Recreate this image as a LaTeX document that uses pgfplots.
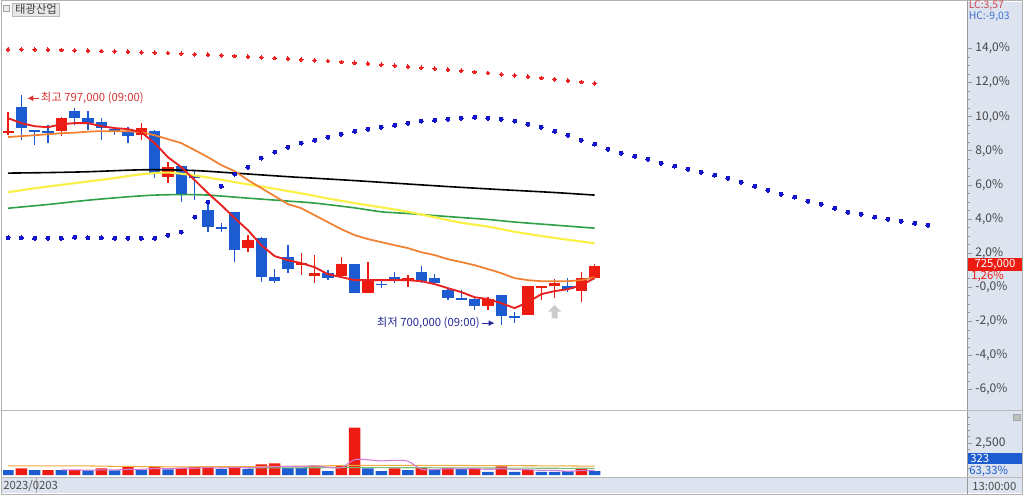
\documentclass[border=0pt]{standalone}
\usepackage{pgfplots}
\pgfplotsset{compat=1.18}
\usepackage{pgfplotstable}
\usepackage{fontspec}
\setmainfont{Noto Sans CJK KR}
\usetikzlibrary{arrows.meta,shapes.arrows}

\definecolor{cRed}{RGB}{236,28,18}
\definecolor{cBlue}{RGB}{28,92,208}
\definecolor{maRed}{RGB}{232,32,32}
\definecolor{maOrange}{RGB}{242,128,48}
\definecolor{maYellow}{RGB}{250,240,70}
\definecolor{maGreen}{RGB}{46,160,72}
\definecolor{dotRed}{RGB}{235,30,30}
\definecolor{dotBlue}{RGB}{20,20,200}
\definecolor{panelbg}{RGB}{221,228,239}
\definecolor{tickgray}{RGB}{70,70,70}
\definecolor{labRed}{RGB}{214,52,52}
\definecolor{labBlue}{RGB}{36,40,150}
\definecolor{volPink}{RGB}{214,120,214}
\definecolor{volOrange}{RGB}{240,170,60}
\definecolor{volGreen}{RGB}{120,190,120}

\newcommand\fs{\fontsize{8.5}{9}\selectfont}
\newcommand\fst{\fontsize{9}{10}\selectfont}
\newcommand\fss{\fontsize{7.8}{8.5}\selectfont}

% candles: index, open, high, low, close (percent)
\pgfplotstableread{
i o h l c
0 9.03 10.26 8.91 9.15
4 9.15 9.97 8.86 9.91
10 8.91 9.62 8.62 9.33
12 6.45 7.33 6.10 7.04
18 2.29 3.05 2.05 2.76
22 1.29 1.99 0.70 1.41
23 0.65 1.88 0.23 0.82
25 0.65 1.76 0.53 1.35
27 -0.35 1.47 -0.35 0.35
30 0.35 0.70 0.00 0.53
36 -1.11 -0.59 -1.35 -0.70
39 -1.64 0.06 -1.64 0.06
40 0.00 0.06 -0.76 0.06
41 0.06 0.47 -0.65 0.23
43 -0.23 0.88 -0.88 0.53
44 0.53 1.35 0.47 1.26
}\candred
\pgfplotstableread{
i o h l c
1 10.56 11.26 8.62 9.33
2 9.16 9.16 8.33 9.12
3 9.15 9.50 8.45 9.03
5 10.32 10.50 9.50 9.91
6 9.91 10.32 9.21 9.62
7 9.68 9.91 8.62 9.33
8 9.27 9.38 8.91 9.22
9 9.09 9.38 8.45 8.86
11 9.15 9.21 6.39 6.69
13 7.10 7.10 4.99 5.45
14 6.51 6.86 5.10 6.47
15 4.52 4.81 3.23 3.52
16 3.52 3.75 3.23 3.46
17 4.40 4.40 1.47 2.17
19 2.87 2.93 0.29 0.59
20 0.59 1.06 0.23 0.35
21 1.76 2.46 0.82 1.06
24 0.82 1.00 0.41 0.53
26 1.35 1.35 -0.35 -0.35
28 0.18 0.47 -0.06 0.14
29 0.59 0.88 0.23 0.35
31 0.88 1.23 0.23 0.35
32 0.53 0.76 0.23 0.23
33 -0.18 -0.06 -0.76 -0.65
34 -0.66 -0.18 -0.76 -0.70
35 -0.70 -0.59 -1.35 -1.11
37 -0.47 -0.47 -2.23 -1.70
38 -1.73 -1.47 -2.11 -1.76
42 0.06 0.53 -0.29 -0.12
}\candblue

% moving averages: red and orange
\pgfplotstableread{
i r o
0 9.91 8.80
1 9.62 8.86
2 9.44 8.91
3 9.38 8.97
4 9.56 9.03
5 9.62 9.06
6 9.62 9.12
7 9.44 9.15
8 9.33 9.15
9 9.27 9.15
10 9.09 9.09
11 8.45 8.91
12 7.62 8.68
13 7.04 8.45
14 6.28 8.04
15 5.51 7.62
16 4.81 7.16
17 4.05 6.80
18 3.34 6.28
19 2.46 5.81
20 1.82 5.34
21 1.58 4.87
22 1.41 4.63
23 1.17 4.22
24 0.76 3.81
25 0.59 3.40
26 0.41 3.05
27 0.41 2.82
28 0.41 2.64
29 0.41 2.46
30 0.41 2.29
31 0.35 2.05
32 0.18 1.88
33 -0.06 1.64
34 -0.29 1.47
35 -0.59 1.29
36 -0.70 1.06
37 -0.94 0.82
38 -1.23 0.53
39 -0.88 0.41
40 -0.41 0.35
41 -0.23 0.35
42 -0.12 0.35
43 0.12 0.41
44 0.53 0.59
}\mas

\pgfplotstableread{
i v
0 6.69
3 6.72
6 6.77
9 6.86
11 6.89
14 6.84
17 6.69
21 6.48
23 6.39
26 6.25
29 6.10
33 5.90
37 5.72
41 5.55
44 5.40
}\mablack
\pgfplotstableread{
i v
0 5.57
2 5.80
4 6.00
6 6.20
8 6.40
10 6.62
12 6.72
14 6.55
16 6.30
18 6.03
20 5.77
22 5.50
24 5.20
26 4.93
28 4.68
30 4.42
32 4.10
34 3.78
36 3.55
38 3.25
40 3.00
42 2.78
44 2.58
}\mayellow
\pgfplotstableread{
i v
0 4.63
3 4.85
6 5.10
9 5.30
11 5.40
13 5.43
15 5.40
18 5.22
21 5.05
23 4.93
26 4.65
28 4.42
30 4.32
33 4.14
36 3.97
38 3.82
41 3.64
44 3.46
}\magreen

\pgfplotstableread{
i v
0 13.96
1 13.95
2 13.94
3 13.92
4 13.91
5 13.89
6 13.87
7 13.85
8 13.83
9 13.81
10 13.78
11 13.75
12 13.73
13 13.70
14 13.66
15 13.63
16 13.60
17 13.56
18 13.52
19 13.48
20 13.44
21 13.40
22 13.35
23 13.31
24 13.26
25 13.21
26 13.16
27 13.11
28 13.05
29 13.00
30 12.94
31 12.88
32 12.82
33 12.75
34 12.69
35 12.62
36 12.56
37 12.49
38 12.42
39 12.35
40 12.27
41 12.20
42 12.12
43 12.04
44 11.96
}\dotred

\pgfplotstableread{
i v
0 2.90
1 2.90
2 2.87
3 2.87
4 2.87
5 2.93
6 2.90
7 2.90
8 2.87
9 2.87
10 2.87
11 2.87
12 3.05
13 3.23
14 4.11
15 4.99
16 5.92
17 6.63
18 7.04
19 7.57
20 7.92
21 8.21
22 8.45
23 8.62
24 8.80
25 8.97
26 9.15
27 9.27
28 9.38
29 9.50
30 9.62
31 9.74
32 9.79
33 9.85
34 9.91
35 9.97
36 9.91
37 9.85
38 9.74
39 9.56
40 9.38
41 9.15
42 8.91
43 8.62
44 8.39
45 8.09
46 7.86
47 7.68
48 7.51
49 7.27
50 7.10
51 6.92
52 6.74
53 6.57
54 6.39
55 6.16
56 5.92
57 5.69
58 5.45
59 5.28
60 5.04
61 4.87
62 4.63
63 4.40
64 4.28
65 4.11
66 3.99
67 3.87
68 3.75
69 3.64
}\dotblue

% volume
\pgfplotstableread{
i v
1 520
3 390
5 390
7 520
9 650
11 650
13 572
14 650
15 650
17 650
19 832
20 910
23 728
25 728
26 3700
29 520
31 572
33 572
35 520
37 676
39 416
43 572
}\volred
\pgfplotstableread{
i v
0 390
2 390
4 390
6 364
8 364
10 390
12 442
16 468
18 468
21 572
22 572
24 312
27 520
28 312
30 390
32 416
34 468
36 260
38 260
40 260
41 260
42 312
44 323
}\volblue
\pgfplotstableread{
i v
4 416
5 416
6 385
7 411
8 406
9 458
10 458
11 515
12 499
13 541
14 541
15 593
16 556
17 598
18 577
19 614
20 666
21 686
22 671
23 723
24 619
25 582
26 1208
27 1198
28 1114
29 1156
30 1088
31 463
32 442
33 494
34 484
35 510
36 447
37 499
38 437
39 426
40 374
41 374
42 302
43 364
44 359
}\volma
\pgfplotstableread{
i v
0 720
6 720
8 690
12 650
18 660
22 700
26 760
32 760
38 740
42 720
44 700
}\volmb
\pgfplotstableread{
i v
18 560
26 590
34 570
40 540
44 530
}\volmc

\begin{document}
\begin{tikzpicture}
\begin{scope}[x=0.75pt,y=-0.75pt,yshift=371.25pt]
 \fill[white] (0,0) rectangle (1024,495);
 \useasboundingbox (0,0) rectangle (1024,495);
 \fill[panelbg] (967,2) rectangle (1022,477);
 \fill[panelbg] (2,477.5) rectangle (1022,493);
\end{scope}

% ---------------- main price panel
\begin{axis}[
  at={(2.25pt,63.75pt)}, anchor=south west,
  scale only axis, width=723pt, height=306pt,
  xmin=-0.375, xmax=71.93, ymin=-7.214, ymax=16.716,
  axis x line=none,
  axis y line*=right,
  y axis line style={-, draw=gray!80},
  ytick={-6,-4,...,14},
  yticklabels={{-6,0\%},{-4,0\%},{-2,0\%},{-0,0\%},{2,0\%},{4,0\%},{6,0\%},{8,0\%},{10,0\%},{12,0\%},{14,0\%}},
  minor y tick num=3,
  tick align=outside,
  major tick length=3.8pt, minor tick length=2pt,
  every tick/.style={gray!80},
  yticklabel style={font=\fst, text=tickgray, xshift=-1pt},
]
% wicks
\addplot[draw=none, mark=none, error bars/.cd, y dir=both, y explicit, error mark=none,
  error bar style={draw=cBlue, line width=0.8pt}]
  table[x=i, y expr={(\thisrow{h}+\thisrow{l})/2}, y error expr={(\thisrow{h}-\thisrow{l})/2}]{\candblue};
\addplot[draw=none, mark=none, error bars/.cd, y dir=both, y explicit, error mark=none,
  error bar style={draw=cRed, line width=0.8pt}]
  table[x=i, y expr={(\thisrow{h}+\thisrow{l})/2}, y error expr={(\thisrow{h}-\thisrow{l})/2}]{\candred};
% bodies
\addplot[draw=none, mark=none, error bars/.cd, y dir=both, y explicit, error mark=none,
  error bar style={draw=cBlue, line width=8.4pt}]
  table[x=i, y expr={(\thisrow{o}+\thisrow{c})/2}, y error expr={max(abs(\thisrow{c}-\thisrow{o})/2,0.05)}]{\candblue};
\addplot[draw=none, mark=none, error bars/.cd, y dir=both, y explicit, error mark=none,
  error bar style={draw=cRed, line width=8.4pt}]
  table[x=i, y expr={(\thisrow{o}+\thisrow{c})/2}, y error expr={max(abs(\thisrow{c}-\thisrow{o})/2,0.05)}]{\candred};
% moving averages
\addplot[maGreen, line width=1.2pt, smooth] table[x=i,y=v]{\magreen};
\addplot[maYellow, line width=1.6pt, smooth] table[x=i,y=v]{\mayellow};
\addplot[black, line width=1.2pt, smooth] table[x=i,y=v]{\mablack};
\addplot[maOrange, line width=1.3pt] table[x=i,y=o]{\mas};
\addplot[maRed, line width=1.4pt] table[x=i,y=r]{\mas};
% dots
\addplot[dotRed, only marks, mark=*, mark size=1.4pt, mark options={draw=dotRed, fill=dotRed, line width=0pt}] table[x=i,y=v]{\dotred};
\addplot[dotBlue, only marks, mark=*, mark size=1.5pt, mark options={draw=dotBlue, fill=dotBlue, line width=0pt}] table[x=i,y=v]{\dotblue};
% annotations
\draw[labRed, line width=0.8pt, -{Latex[length=4.5pt,width=4.5pt]}] (axis cs:2.3,11.08) -- (axis cs:1.45,11.08);
\node[anchor=west, text=labRed, font=\fs, inner sep=0pt] at (axis cs:2.45,11.08) {최고 797,000 (09:00)};
\draw[labBlue, line width=0.8pt, -{Latex[length=4.5pt,width=4.5pt]}] (axis cs:35.55,-2.11) -- (axis cs:36.5,-2.11);
\node[anchor=east, text=labBlue, font=\fs, inner sep=0pt] at (axis cs:35.4,-2.11) {최저 700,000 (09:00)};
\node[single arrow, fill=gray!40, draw=none, rotate=90, minimum height=10pt, minimum width=10pt,
  single arrow head extend=1.5pt, inner sep=1pt] at (axis cs:41,-1.52) {};
\end{axis}

% ---------------- volume panel
\begin{axis}[
  at={(2.25pt,14.25pt)}, anchor=south west,
  scale only axis, width=723pt, height=48pt,
  xmin=-0.375, xmax=71.93, ymin=-78, ymax=4914,
  axis x line=none,
  axis y line*=right,
  y axis line style={-, draw=gray!80},
  ytick={2500}, yticklabel={2,500},
  minor ytick={500,1000,1500,2000,3000,3500,4000,4500},
  tick align=outside,
  major tick length=3.8pt, minor tick length=2pt,
  every tick/.style={gray!80},
  yticklabel style={font=\fst, text=tickgray, xshift=-1pt},
]
\addplot[ybar, bar width=8.6pt, bar shift=0pt, fill=cRed, draw=none] table[x=i,y=v]{\volred};
\addplot[ybar, bar width=8.6pt, bar shift=0pt, fill=cBlue, draw=none] table[x=i,y=v]{\volblue};
\addplot[volOrange, line width=0.8pt] table[x=i,y=v]{\volmb};
\addplot[volGreen, line width=0.8pt] table[x=i,y=v]{\volmc};
\addplot[volPink, line width=0.8pt, smooth] table[x=i,y=v]{\volma};
\end{axis}

% ---------------- frame and labels
\begin{scope}[x=0.75pt,y=-0.75pt,yshift=371.25pt]
 \draw[gray!80, line width=0.75pt] (967,1) -- (967,494);
 \draw[gray!55, line width=0.9pt] (2,410.5) -- (1022,410.5);
 \draw[gray!55, line width=0.9pt] (2,477.5) -- (1022,477.5);
 \draw[gray!60, line width=1pt] (1.5,0.5) rectangle (1022.5,494.5);
 \draw[gray!70] (36,478) -- (36,493);
 % title
 \draw[gray!70, fill=gray!15] (3.5,5) rectangle (9.5,11);
 \node[fill=gray!18, draw=gray!55, inner xsep=2pt, inner ysep=1pt, font=\fs, text=black!75] at (36,9.5) {태광산업};
 % top right
 \node[anchor=west, font=\fss, text={rgb,255:red,205;green,70;blue,85}, inner sep=0pt] at (968.5,5.5) {LC:3,57};
 \node[anchor=west, font=\fss, text={rgb,255:red,60;green,110;blue,205}, inner sep=0pt] at (968.5,16) {HC:-9,03};
 % price box
 \fill[cRed] (968,258) rectangle (1022,271);
 \node[font=\fs, text=white, inner sep=0pt] at (995,264.5) {725,000};
 \node[anchor=west, font=\fs, text=cRed, inner sep=0pt] at (971,276.5) {1,26\%};
 % volume labels
 \fill[cBlue] (968,453) rectangle (1022,464);
 \node[anchor=west, font=\fs, text=white, inner sep=0pt] at (970,458.5) {323};
 \node[anchor=west, font=\fs, text=cBlue, inner sep=0pt] at (969,471) {63,33\%};
 \draw[gray!70, fill=gray!50] (1013,414) rectangle (1020,420);
 % dates
 \node[anchor=west, font=\fs, text=black!70, inner sep=0pt] at (3,486) {2023/0203};
 \node[anchor=west, font=\fs, text=black!70, inner sep=0pt] at (972,486) {13:00:00};
\end{scope}
\end{tikzpicture}
\end{document}
